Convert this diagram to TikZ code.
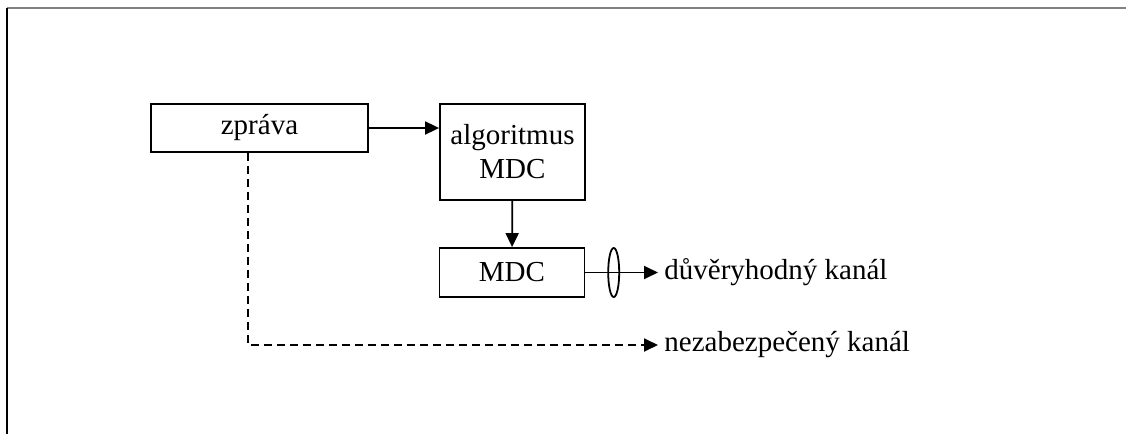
\documentclass[tikz,border=0pt]{standalone}
\usepackage{fontspec}
\setmainfont{Liberation Serif}
\usetikzlibrary{arrows.meta,shapes.geometric}

\begin{document}
\begin{tikzpicture}[x=0.5pt,y=-0.5pt]
	\tikzstyle{BoxStyle}   = [shape=rectangle, draw, line width=0.9pt, minimum width=72.5pt, inner sep=0pt, align=center, font=\fontsize{14.5}{16}\selectfont]
	\tikzstyle{LabelStyle} = [anchor=west, inner sep=3pt, font=\fontsize{14.5}{16}\selectfont]
	\tikzstyle{EdgeStyle}  = [line width=0.9pt, -{Triangle[length=7pt,width=6.5pt]}]

	\useasboundingbox (0,0) rectangle (1126,434);
	\draw[gray, line width=1pt] (7,8) -- (1126,8);
	\draw[line width=1pt] (7,8) -- (7,434);

	\node[BoxStyle, minimum width=108.5pt, minimum height=24pt] (zprava) at (259.5,128) {zpráva};
	\node[BoxStyle, minimum height=48pt] (algo) at (512.5,152) {algoritmus\\[1pt]MDC};
	\node[BoxStyle, minimum height=24.5pt] (mdc) at (512,272.5) {MDC};
	\node[LabelStyle] (trusted) at (658,272.5) {důvěryhodný kanál};
	\node[LabelStyle] (unsafe) at (658,345) {nezabezpečený kanál};
	\coordinate (bend) at (248,345);

	\draw[EdgeStyle] (zprava) -- (algo.west |- zprava);
	\draw[EdgeStyle] (algo) -- (mdc);
	\draw[EdgeStyle] (mdc.east) -- node[pos=0.39, draw, ellipse, line width=0.9pt, minimum width=5.5pt, minimum height=24.5pt, inner sep=0pt] (seal) {} (trusted.west);
	\draw[EdgeStyle, dash pattern=on 4pt off 2.5pt] (zprava.south -| bend) -- (bend) -- (unsafe.west);
\end{tikzpicture}
\end{document}
